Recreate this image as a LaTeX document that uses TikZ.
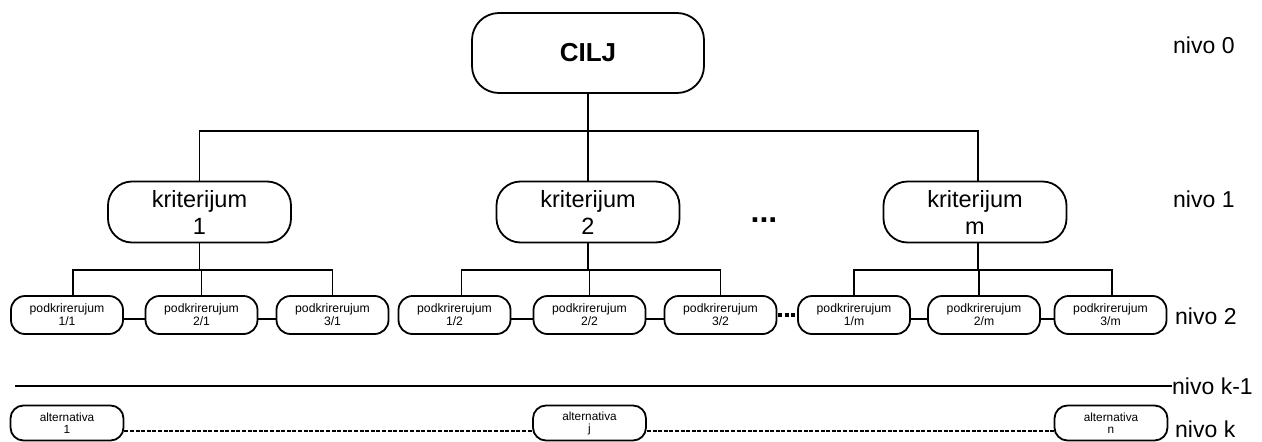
\documentclass[tikz,border=0pt]{standalone}
\usepackage{fontspec}
\setmainfont{Liberation Sans}
\begin{document}
\begin{tikzpicture}[x=1pt,y=-1pt,
  box/.style={draw, line width=1.8pt, align=center, inner sep=0pt},
  ciljbox/.style={box, minimum width=232pt, minimum height=80pt, rounded corners=27pt,
    font=\bfseries\fontsize{26}{28}\selectfont},
  kritbox/.style={box, minimum width=183pt, minimum height=61pt, rounded corners=24pt,
    font=\fontsize{23.5}{27}\selectfont},
  subbox/.style={box, minimum width=112pt, minimum height=38pt, rounded corners=14pt,
    font=\fontsize{12.2}{13}\selectfont},
  altbox/.style={box, minimum width=113pt, minimum height=35pt, rounded corners=13pt,
    font=\fontsize{11.8}{12}\selectfont},
  lvl/.style={anchor=west, inner sep=0pt, font=\fontsize{23}{27}\selectfont},
  conn/.style={line width=1.6pt},
  dashconn/.style={line width=1.7pt, dash pattern=on 4pt off 1.6pt},
  dotconn/.style={line width=4pt, dash pattern=on 4pt off 2.5pt}
]
\useasboundingbox (0,0) rectangle (1262,442);

% level 0
\node[ciljbox] (cilj) at (588,53) {CILJ};

% level 1
\node[kritbox] (k1) at (199.5,212) {kriterijum\\1};
\node[kritbox] (k2) at (588,212) {kriterijum\\2};
\node[kritbox] (km) at (975,212) {kriterijum\\m};
\node[inner sep=0pt, font=\bfseries\fontsize{32}{32}\selectfont] (kdots) at (764,220) {...};

% level 2
\node[subbox] (s11) at (67,315) {podkrirerujum\\1/1};
\node[subbox] (s21) at (201.5,315) {podkrirerujum\\2/1};
\node[subbox] (s31) at (332.5,315) {podkrirerujum\\3/1};
\node[subbox] (s12) at (454.5,315) {podkrirerujum\\1/2};
\node[subbox] (s22) at (589.5,315) {podkrirerujum\\2/2};
\node[subbox] (s32) at (720.5,315) {podkrirerujum\\3/2};
\node[subbox] (s1m) at (854,315) {podkrirerujum\\1/m};
\node[subbox] (s2m) at (984,315) {podkrirerujum\\2/m};
\node[subbox] (s3m) at (1110.5,315) {podkrirerujum\\3/m};

% level k
\node[altbox] (a1) at (67,423) {alternativa\\1};
\node[altbox] (aj) at (589.5,423) {alternativa\\j};
\node[altbox] (an) at (1111,423) {alternativa\\n};

% level labels
\node[lvl] (l0) at (1173,45) {nivo 0};
\node[lvl] (l1) at (1173,199) {nivo 1};
\node[lvl] (l2) at (1175,316) {nivo 2};
\node[lvl] (lk1) at (1172,386) {nivo k-1};
\node[lvl] (lk) at (1175,429) {nivo k};

% connectors level 0 -> 1
\coordinate (h0) at (588,131);
\draw[conn] (cilj.south) -- (h0);
\draw[conn] (k1.north) |- (h0);
\draw[conn] (k2.north) -- (k2.north |- h0);
\draw[conn] ([xshift=3pt]km.north) |- (h0);

% connectors level 1 -> 2
\coordinate (h1) at (199.5,270);
\draw[conn] (k1.south) -- (h1);
\draw[conn] ([xshift=6pt]s11.north) |- (h1) -| (s31.north);
\draw[conn] (s21.north) -- (s21.north |- h1);
\coordinate (h2) at (588,270);
\draw[conn] (k2.south) -- (h2);
\draw[conn] ([xshift=7pt]s12.north) |- (h2) -| (s32.north);
\draw[conn] (s22.north) -- (s22.north |- h2);
\coordinate (h3) at (978,270);
\draw[conn] ([xshift=3pt]km.south) -- (h3);
\draw[conn] (s1m.north) |- (h3) -| ([xshift=1.5pt]s3m.north);
\draw[conn] ([xshift=-5pt]s2m.north) -- ([xshift=-5pt]s2m.north |- h3);

% horizontal links between sub-criteria
\draw[conn] ([yshift=-4pt]s11.east) -- ([yshift=-4pt]s21.west);
\draw[conn] ([yshift=-4pt]s21.east) -- ([yshift=-4pt]s31.west);
\draw[conn] ([yshift=-4pt]s12.east) -- ([yshift=-4pt]s22.west);
\draw[conn] ([yshift=-4pt]s22.east) -- ([yshift=-4pt]s32.west);
\draw[conn] ([yshift=-4pt]s1m.east) -- ([yshift=-4pt]s2m.west);
\draw[conn] ([yshift=-4pt]s2m.east) -- ([yshift=-4pt]s3m.west);
\draw[dotconn] ([xshift=1pt]s32.east) -- ([xshift=-2pt]s1m.west);

% level k-1 line
\coordinate (lstart) at (15,386);
\draw[line width=2pt] (lstart) -- (lk1.west);

% dashed links between alternatives
\draw[dashconn] ([yshift=-8pt]a1.east) -- ([yshift=-8pt]aj.west);
\draw[dashconn] ([yshift=-8pt]aj.east) -- ([yshift=-8pt]an.west);
\end{tikzpicture}
\end{document}
